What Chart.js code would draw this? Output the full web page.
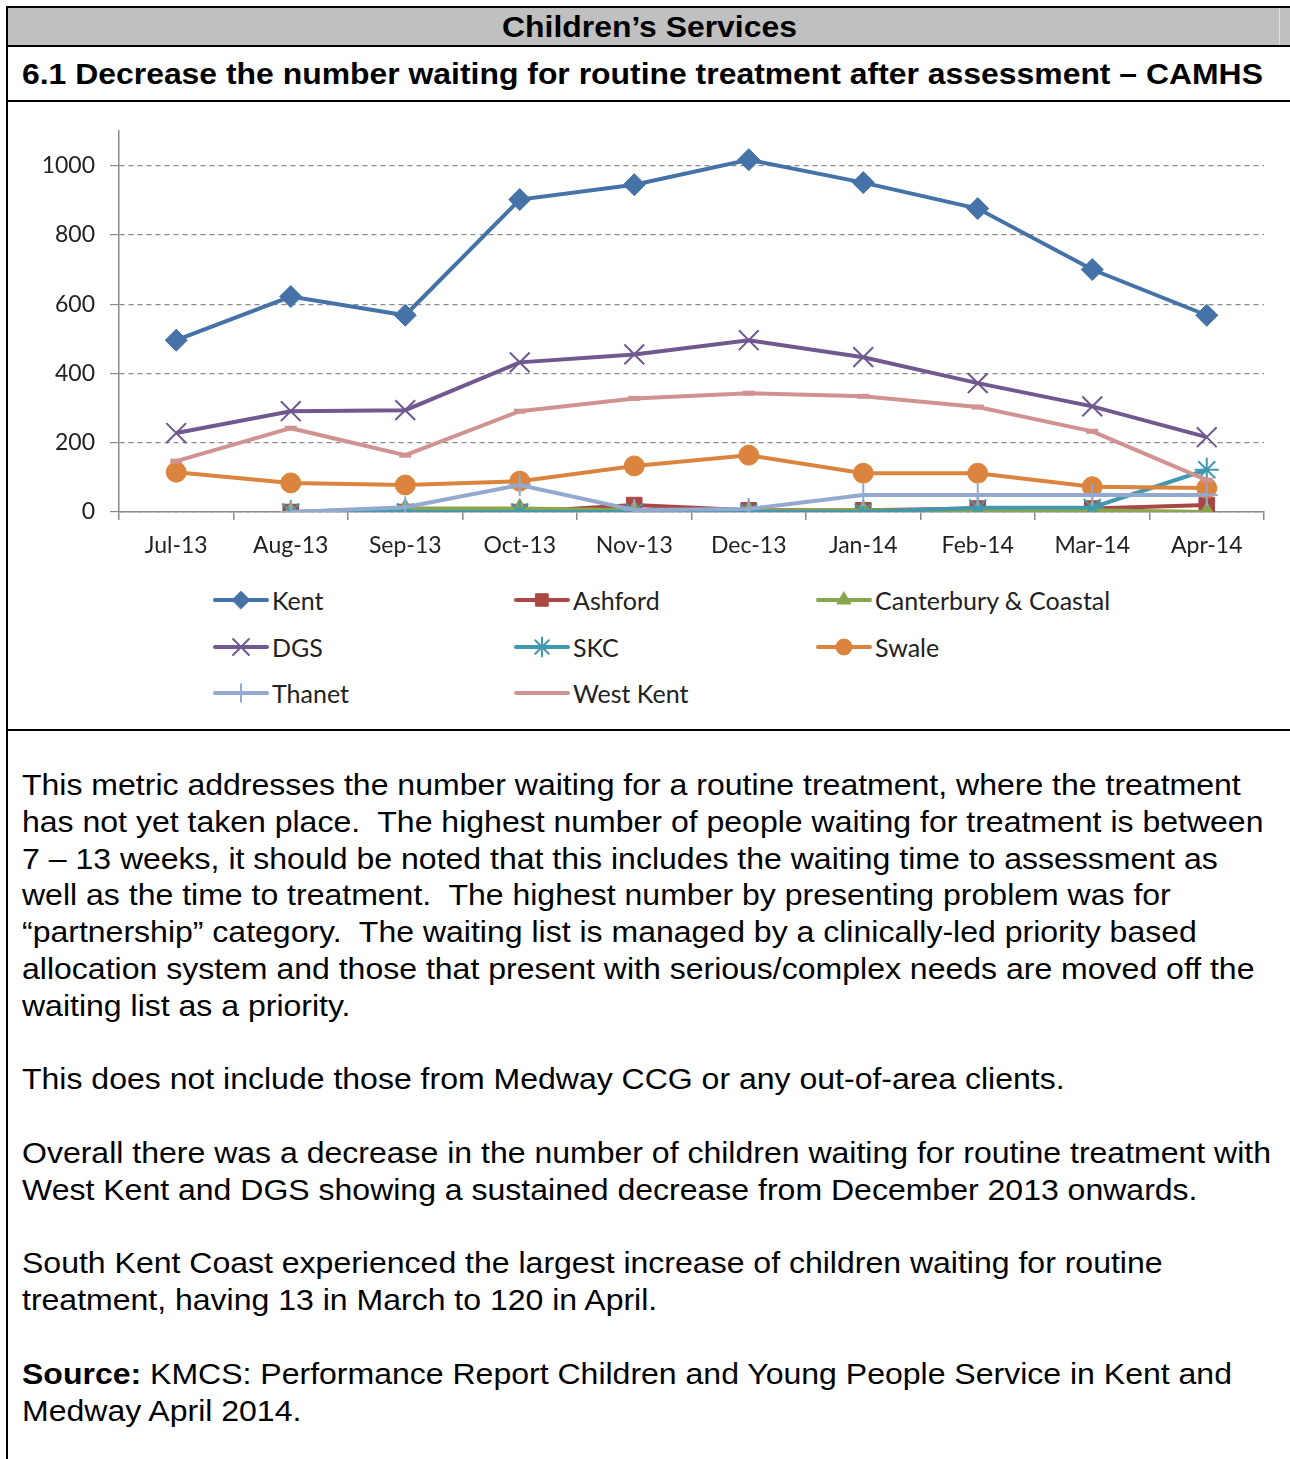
<!DOCTYPE html>
<html>
<head>
    <title>Children's Services - CAMHS</title>
    <script src="https://cdn.jsdelivr.net/npm/chart.js"></script>
    <style>
        body { margin: 0; background: #fff; font-family: "Liberation Sans", Arial, sans-serif; }
        #page { position: relative; width: 1290px; height: 1459px; overflow: hidden; }
        #frame-left { position: absolute; left: 6px; top: 6px; width: 2px; height: 1453px; background: #000; }
        #header { position: absolute; left: 8px; top: 6px; width: 1282px; height: 37px; background: #c0c0c0;
                  border-top: 2px solid #000; border-bottom: 2px solid #000; }
        #header span { position: absolute; left: 0; width: 1283px; text-align: center; top: 2px;
                  font-weight: bold; font-size: 29px; line-height: 34px; transform: scaleX(1.1); }
        #header .cell-edge { position: absolute; left: 1271px; top: 0; width: 1px; height: 37px; background: #e0e0e0; }
        #title { position: absolute; left: 22px; top: 56px; font-weight: bold; font-size: 29px; line-height: 36px;
                 white-space: nowrap; transform: scaleX(1.1); transform-origin: left center; }
        .hline { position: absolute; left: 8px; width: 1282px; height: 2px; background: #000; }
        #chart-box { position: absolute; left: 8px; top: 102px; width: 1280px; height: 468px; }
        .legend-item { position: absolute; height: 30px; display: flex; align-items: center;
                       font-family: Lato, sans-serif; font-size: 25px; color: #222; white-space: nowrap; }
        .legend-item canvas { margin-right: 2px; }
        #text { position: absolute; left: 22px; top: 767px; font-size: 30px; line-height: 36.8px; color: #000;
                white-space: nowrap; transform: scaleX(1.067); transform-origin: left top; }
    </style>
</head>
<body>
<div id="page">
    <div id="frame-left"></div>
    <div id="header"><span>Children’s Services</span><div class="cell-edge"></div></div>
    <div id="title">6.1 Decrease the number waiting for routine treatment after assessment – CAMHS</div>
    <div class="hline" style="top: 100px;"></div>
    <div id="chart-box"><canvas id="myChart" width="1280" height="468"></canvas></div>
    <div id="legend"></div>
    <div class="hline" style="top: 729px;"></div>
    <div id="text">
        This metric addresses the number waiting for a routine treatment, where the treatment<br>
        has not yet taken place.&nbsp; The highest number of people waiting for treatment is between<br>
        7 – 13 weeks, it should be noted that this includes the waiting time to assessment as<br>
        well as the time to treatment.&nbsp; The highest number by presenting problem was for<br>
        “partnership” category.&nbsp; The waiting list is managed by a clinically-led priority based<br>
        allocation system and those that present with serious/complex needs are moved off the<br>
        waiting list as a priority.<br>
        <br>
        This does not include those from Medway CCG or any out-of-area clients.<br>
        <br>
        Overall there was a decrease in the number of children waiting for routine treatment with<br>
        West Kent and DGS showing a sustained decrease from December 2013 onwards.<br>
        <br>
        South Kent Coast experienced the largest increase of children waiting for routine<br>
        treatment, having 13 in March to 120 in April.<br>
        <br>
        <b>Source:</b> KMCS: Performance Report Children and Young People Service in Kent and<br>
        Medway April 2014.
    </div>
</div>

<script>
    // Data
    const months = ['Jul-13', 'Aug-13', 'Sep-13', 'Oct-13', 'Nov-13', 'Dec-13', 'Jan-14', 'Feb-14', 'Mar-14', 'Apr-14'];
    const kent = [496, 622, 568, 902, 945, 1017, 951, 876, 700, 568];
    const ashford = [null, 0, 0, 0, 20, 5, 5, 10, 10, 20];
    const canterbury = [null, 0, 10, 10, 5, 3, 5, 5, 5, 0];
    const dgs = [228, 291, 294, 432, 455, 496, 447, 372, 305, 216];
    const skc = [null, 0, 0, 0, 0, 0, 0, 12, 13, 122];
    const swale = [115, 84, 78, 89, 133, 164, 112, 112, 73, 69];
    const thanet = [null, 0, 14, 78, 6, 9, 49, 49, 49, 49];
    const westKent = [147, 242, 164, 291, 328, 343, 334, 303, 233, 92];
    const yTicks = [0, 200, 400, 600, 800, 1000];

    // Series styles (Excel 2007 palette)
    const series = [
        { label: 'Kent', data: kent, color: '#4572a7', style: 'rectRot', radius: 11, pbw: 1 },
        { label: 'Ashford', data: ashford, color: '#aa4643', style: 'rect', radius: 11, pbw: 1 },
        { label: 'Canterbury & Coastal', data: canterbury, color: '#89a54e', style: 'triangle', radius: 10, pbw: 1 },
        { label: 'DGS', data: dgs, color: '#71588f', style: 'crossRot', radius: 14, pbw: 2 },
        { label: 'SKC', data: skc, color: '#4198af', style: 'star', radius: 12, pbw: 2 },
        { label: 'Swale', data: swale, color: '#db843d', style: 'circle', radius: 10, pbw: 1 },
        { label: 'Thanet', data: thanet, color: '#93a9cf', style: 'cross', radius: 11, pbw: 2 },
        { label: 'West Kent', data: westKent, color: '#d19392', style: 'line', radius: 6, pbw: 5 }
    ];

    const datasets = series.map((s, i) => ({
        label: s.label,
        data: s.data,
        borderColor: s.color,
        backgroundColor: s.color,
        borderWidth: 4,
        pointStyle: s.style,
        pointRadius: s.radius,
        pointBorderWidth: s.pbw,
        pointBorderColor: s.color,
        pointBackgroundColor: s.color,
        tension: 0,
        spanGaps: false,
        order: series.length - i   // later series drawn on top, like Excel
    }));

    const axisColor = '#8a8a8a';
    const tickFont = { family: 'Lato', size: 23 };

    const ctx = document.getElementById('myChart').getContext('2d');
    const myChart = new Chart(ctx, {
        type: 'line',
        data: { labels: months, datasets: datasets },
        options: {
            responsive: false,
            animation: false,
            layout: { padding: { top: 29, right: 24, left: 0, bottom: 0 } },
            plugins: {
                legend: { display: false },
                tooltip: { enabled: false }
            },
            scales: {
                x: {
                    offset: true,
                    grid: { display: true, drawOnChartArea: false, drawTicks: true, tickLength: 8,
                            offset: true, color: axisColor, lineWidth: 1.5 },
                    border: { color: axisColor, width: 1.5 },
                    ticks: { font: tickFont, color: '#222', padding: 12, maxRotation: 0 },
                    afterFit: scale => { scale.height = 58; }
                },
                y: {
                    min: 0,
                    max: 1100,
                    afterBuildTicks: axis => { axis.ticks = yTicks.map(v => ({ value: v })); },
                    grid: { color: axisColor, lineWidth: 1.2, tickLength: 9, tickBorderDash: [], tickColor: axisColor },
                    border: { color: axisColor, width: 1.5, dash: [5, 4] },
                    ticks: { font: tickFont, color: '#222', padding: 15, callback: v => String(v) },
                    afterFit: scale => { scale.width = 111; }
                }
            }
        }
    });

    // Legend laid out as in the original, 3 columns
    const legendCols = [212, 513, 815];
    const legendRows = [600, 647, 693];
    const legendEl = document.getElementById('legend');
    series.forEach((s, i) => {
        const item = document.createElement('div');
        item.className = 'legend-item';
        item.style.left = legendCols[i % 3] + 'px';
        item.style.top = (legendRows[Math.floor(i / 3)] - 15) + 'px';
        const c = document.createElement('canvas');
        c.width = 58; c.height = 30;
        const g = c.getContext('2d');
        g.strokeStyle = s.color;
        g.lineWidth = 4;
        g.lineCap = 'round';
        g.beginPath(); g.moveTo(3, 15); g.lineTo(55, 15); g.stroke();
        g.fillStyle = s.color;
        g.lineWidth = s.pbw;
        Chart.helpers.drawPoint(g, { pointStyle: s.style, radius: s.style === 'line' ? 0 : s.radius * 0.8, borderWidth: s.pbw }, 29, 15);
        item.appendChild(c);
        const t = document.createElement('span');
        t.textContent = s.label;
        item.appendChild(t);
        legendEl.appendChild(item);
    });
</script>
</body>
</html>
